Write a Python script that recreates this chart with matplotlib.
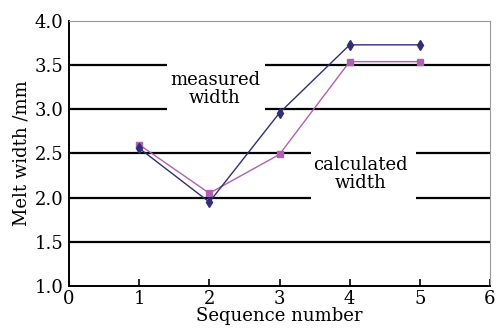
import matplotlib
matplotlib.use("Agg")
import matplotlib.pyplot as plt
from matplotlib.patches import Rectangle

# Melt width per sequence number
sequence = [1, 2, 3, 4, 5]
measured_width = [2.56, 1.95, 2.96, 3.73, 3.73]
calculated_width = [2.60, 2.05, 2.49, 3.54, 3.54]

x_ticks = [0, 1, 2, 3, 4, 5, 6]
y_ticks = [1.0, 1.5, 2.0, 2.5, 3.0, 3.5, 4.0]

plt.rcParams["font.family"] = ["DejaVu Serif"]

fig = plt.figure(figsize=(4.96, 3.33), dpi=100)
ax = fig.add_axes([69 / 496, 1 - 286 / 333, 421 / 496, 265 / 333])

for y in y_ticks[1:-1]:
    ax.axhline(y, color="black", linewidth=1.6, zorder=1)

ax.plot(sequence, measured_width, color="#2f2f72", linewidth=1.0,
        marker="d", markersize=5, zorder=4)
ax.plot(sequence, calculated_width, color="#b060b0", linewidth=1.0,
        marker="s", markersize=5, zorder=3)

# white boxes behind the labels cut the grid lines
ax.add_patch(Rectangle((1.40, 2.94), 1.40, 0.62, facecolor="white",
                       edgecolor="none", zorder=2))
ax.add_patch(Rectangle((3.45, 1.94), 1.50, 0.62, facecolor="white",
                       edgecolor="none", zorder=2))
ax.text(2.08, 3.23, "measured\nwidth", ha="center", va="center", fontsize=13,
        linespacing=1.0, zorder=2.5)
ax.text(4.15, 2.27, "calculated\nwidth", ha="center", va="center", fontsize=13,
        linespacing=1.0, zorder=2.5)

ax.set_xlim(0, 6)
ax.set_ylim(1.0, 4.0)
ax.set_xticks(x_ticks)
ax.set_yticks(y_ticks)
ax.set_yticklabels([f"{v:.1f}" for v in y_ticks])
ax.tick_params(axis="x", direction="in", length=5, width=1.2, labelsize=13, pad=3)
ax.tick_params(axis="y", length=0, labelsize=13, pad=4)

ax.spines["left"].set_linewidth(1.4)
ax.spines["bottom"].set_linewidth(1.4)
ax.spines["top"].set_color("#999999")
ax.spines["right"].set_color("#999999")

ax.set_xlabel("Sequence number", fontsize=13, labelpad=-1)
ax.set_ylabel("Melt width /mm", fontsize=13, labelpad=3)

fig.savefig("out.png", dpi=100)
